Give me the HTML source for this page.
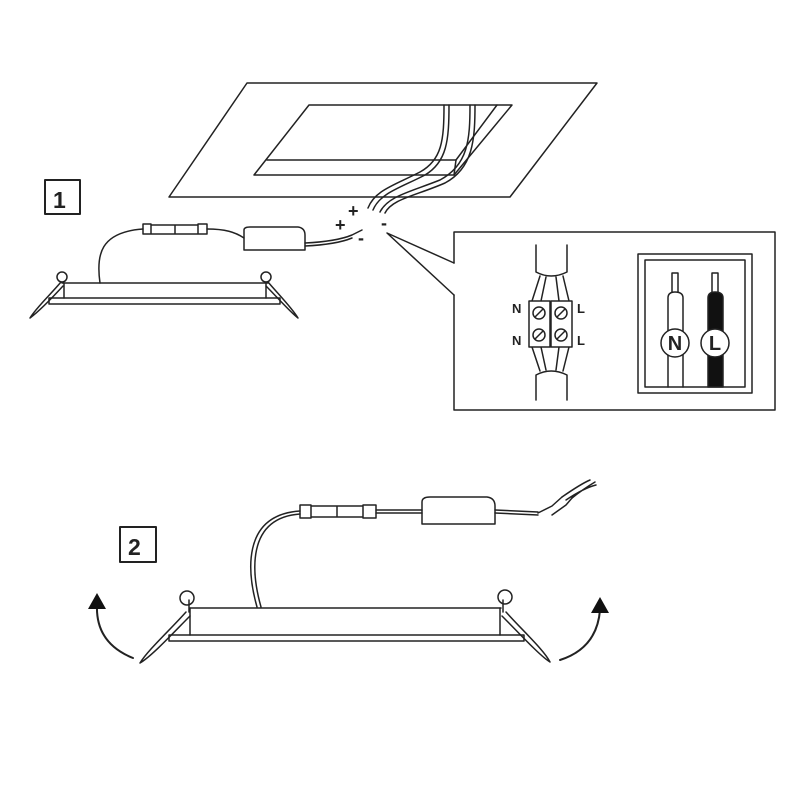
<!DOCTYPE html>
<html><head><meta charset="utf-8"><style>
html,body{margin:0;padding:0;background:#fff}
svg{display:block}
text{font-family:"Liberation Sans",sans-serif;font-weight:bold;fill:#222}
</style></head><body>
<svg width="800" height="800" viewBox="0 0 800 800" xmlns="http://www.w3.org/2000/svg">
<g fill="none" stroke="#222" stroke-width="1.5" stroke-linejoin="round" stroke-linecap="round">
<polygon points="247,83 597,83 510,197 169,197" fill="#fff"/>
<polygon points="309,105 512,105 454,175 254,175" fill="#fff"/>
<line x1="267" y1="160" x2="456" y2="160"/>
<line x1="497" y1="105" x2="456" y2="160"/>
<line x1="456" y1="160" x2="454" y2="175"/>
<path d="M444,105 C444,140 442,160 420,172 C395,185 375,190 368,208"/>
<path d="M449,105 C449,140 447,162 425,175 C400,188 380,193 373,210"/>
<path d="M470,105 C470,140 468,165 440,180 C410,192 388,196 380,212"/>
<path d="M475,105 C475,140 473,168 445,183 C415,196 392,199 385,213"/>
<path d="M100,283 C96,255 100,232 143,229"/>
<path d="M143,224 h8 v10 h-8 z M151,225 h24 v9 h-24 z M175,225 h23 v9 h-23 z M198,224 h9 v10 h-9 z"/>
<path d="M207,229 C225,229 235,232 244,238"/>
<path d="M244,230 Q244,227 250,227 L298,227 Q305,228 305,235 L305,250 L244,250 Z"/>
<path d="M305,243 C325,242 340,240 352,235 L362,230"/>
<path d="M305,246 C325,245 340,243 352,238"/>
<line x1="62" y1="283" x2="268" y2="283"/>
<line x1="64" y1="283" x2="64" y2="298"/>
<line x1="266" y1="283" x2="266" y2="298"/>
<rect x="49" y="298" width="231" height="6"/>
<circle cx="62" cy="277" r="5"/>
<circle cx="266" cy="277" r="5"/>
<path d="M61,282 C50,295 36,308 30,318 C38,312 52,298 63,286"/>
<path d="M268,282 C280,296 292,308 298,318 C290,312 278,298 266,286"/>
<polyline points="454,263 387,233 454,295"/>
<polyline points="454,263 454,232 775,232 775,410 454,410 454,295"/>
<path d="M536,245 V272 Q551,280 567,272 V245"/>
<path d="M540,276 L532,301 M546,277 L541,301 M556,277 L559,301 M563,276 L569,301"/>
<path d="M536,400 V375 Q551,367 567,375 V400"/>
<path d="M540,371 L532,347 M546,370 L541,347 M556,370 L559,347 M563,371 L569,347"/>
<rect x="529" y="301" width="21" height="46" fill="#fff"/>
<rect x="551" y="301" width="21" height="46" fill="#fff"/>
<circle cx="539" cy="313" r="6"/><line x1="535" y1="317" x2="543" y2="309"/>
<circle cx="561" cy="313" r="6"/><line x1="557" y1="317" x2="565" y2="309"/>
<circle cx="539" cy="335" r="6"/><line x1="535" y1="339" x2="543" y2="331"/>
<circle cx="561" cy="335" r="6"/><line x1="557" y1="339" x2="565" y2="331"/>
<rect x="638" y="254" width="114" height="139"/>
<rect x="645" y="260" width="100" height="127"/>
<path d="M668,387 V298 Q668,292 675,292 Q683,292 683,298 V387"/>
<path d="M672,292 V273 h6 V292"/>
<path d="M708,298 Q708,292 715,292 Q723,292 723,298 V387 H708 Z" fill="#111"/>
<path d="M712,292 V273 h6 V292"/>
<circle cx="675" cy="343" r="14" fill="#fff"/>
<circle cx="715" cy="343" r="14" fill="#fff"/>
<rect x="45" y="180" width="35" height="34" stroke-width="2"/>
<rect x="120" y="527" width="36" height="35" stroke-width="2"/>
<line x1="190" y1="608" x2="501" y2="608"/>
<line x1="190" y1="608" x2="190" y2="635"/>
<line x1="500" y1="608" x2="500" y2="635"/>
<rect x="169" y="635" width="355" height="6"/>
<circle cx="187" cy="598" r="7"/>
<circle cx="505" cy="597" r="7"/>
<line x1="189" y1="600" x2="189" y2="612"/><line x1="503" y1="600" x2="503" y2="612"/>
<path d="M186,612 C170,630 148,650 140,663 C152,656 174,632 190,616"/>
<path d="M506,612 C522,630 544,650 550,662 C540,656 518,632 502,616"/>
<path d="M133,658 C108,648 96,630 97,605" stroke-width="2"/>
<path d="M560,660 C585,652 598,635 600,610" stroke-width="2"/>
<path d="M257,607 C248,575 240,515 300,511"/>
<path d="M261,607 C252,575 245,518 300,514"/>
<path d="M300,505 h11 v13 h-11 z M311,506 h26 v11 h-26 z M337,506 h26 v11 h-26 z M363,505 h13 v13 h-13 z"/>
<path d="M376,510 H422 M376,513 H422"/>
<path d="M422,502 Q422,497 430,497 L487,497 Q495,498 495,506 L495,524 L422,524 Z"/>
<path d="M495,510 L538,512 M495,513 L538,515"/>
<path d="M538,513 L552,506 L562,497 M552,515 L566,505 L572,498"/>
<path d="M562,497 C575,488 583,483 590,480 M566,500 C578,492 588,487 596,485 M572,498 C582,490 590,485 595,482"/>
</g>
<polygon points="97,593 88,609 106,609" fill="#111"/>
<polygon points="600,597 591,613 609,613" fill="#111"/>
<text x="53" y="208" font-size="23">1</text>
<text x="128" y="555" font-size="23">2</text>
<text x="348" y="217" font-size="18">+</text>
<text x="335" y="231" font-size="18">+</text>
<text x="381" y="229" font-size="18">-</text>
<text x="358" y="244" font-size="18">-</text>
<text x="512" y="313" font-size="13">N</text>
<text x="512" y="345" font-size="13">N</text>
<text x="577" y="313" font-size="13">L</text>
<text x="577" y="345" font-size="13">L</text>
<text x="675" y="350" font-size="20" text-anchor="middle">N</text>
<text x="715" y="350" font-size="20" text-anchor="middle">L</text>
</svg>
</body></html>
